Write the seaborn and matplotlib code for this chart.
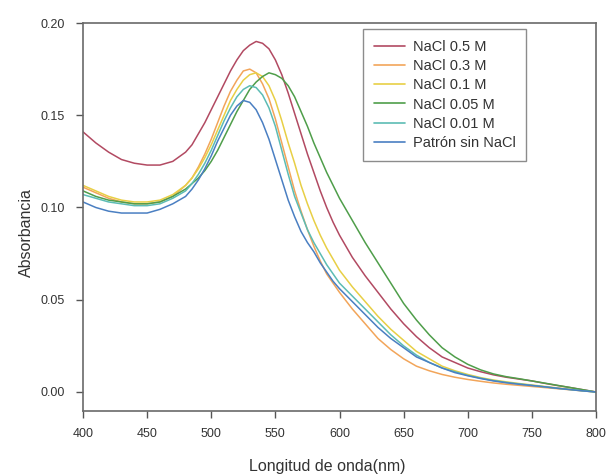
import numpy as np
import pandas as pd
import matplotlib
matplotlib.use("Agg")
import matplotlib.pyplot as plt
import seaborn as sns
from matplotlib.lines import Line2D

wavelength = ([400, 410, 420, 430, 440, 450, 460, 470, 480]
              + [485, 490, 495, 500, 505, 510, 515, 520, 525, 530, 535, 540, 545, 550,
                 555, 560, 565, 570, 575, 580, 585, 590, 595, 600]
              + [610, 620, 630, 640, 650, 660, 670, 680, 690, 700,
                 710, 720, 730, 740, 750, 760, 770, 780, 790, 800])

nacl_05 = [0.141, 0.135, 0.130, 0.126, 0.124, 0.123, 0.123, 0.125, 0.130,
           0.134, 0.140, 0.146, 0.153, 0.160, 0.167, 0.174, 0.180, 0.185, 0.188, 0.190, 0.189,
           0.186, 0.180, 0.172, 0.162, 0.151, 0.140, 0.129, 0.119, 0.109, 0.100, 0.092, 0.085,
           0.073, 0.063, 0.054, 0.045, 0.037, 0.030, 0.024, 0.019, 0.016, 0.013,
           0.011, 0.0093, 0.008, 0.007, 0.006, 0.0047, 0.0035, 0.0024, 0.0012, 0.0]
nacl_03 = [0.111, 0.108, 0.105, 0.103, 0.102, 0.102, 0.103, 0.106, 0.112,
           0.116, 0.122, 0.129, 0.137, 0.146, 0.155, 0.163, 0.169, 0.174, 0.175, 0.173, 0.167,
           0.159, 0.148, 0.135, 0.122, 0.109, 0.098, 0.088, 0.079, 0.071, 0.064, 0.059, 0.054,
           0.045, 0.037, 0.029, 0.023, 0.018, 0.014, 0.0115, 0.0095, 0.008, 0.0068,
           0.0058, 0.0049, 0.0042, 0.0036, 0.003, 0.0024, 0.0018, 0.0012, 0.0006, 0.0]
nacl_01 = [0.112, 0.109, 0.106, 0.104, 0.103, 0.103, 0.104, 0.107, 0.112,
           0.116, 0.121, 0.127, 0.134, 0.142, 0.150, 0.158, 0.164, 0.169, 0.172, 0.173, 0.171,
           0.166, 0.158, 0.147, 0.135, 0.124, 0.112, 0.102, 0.093, 0.085, 0.078, 0.072, 0.066,
           0.057, 0.049, 0.041, 0.034, 0.028, 0.022, 0.018, 0.014, 0.0115, 0.0095,
           0.0078, 0.0065, 0.0055, 0.0046, 0.0038, 0.003, 0.0022, 0.0015, 0.0007, 0.0]
nacl_005 = [0.109, 0.106, 0.104, 0.103, 0.102, 0.102, 0.103, 0.106, 0.110,
            0.113, 0.116, 0.120, 0.125, 0.131, 0.138, 0.145, 0.152, 0.158, 0.164, 0.168, 0.171,
            0.173, 0.172, 0.170, 0.166, 0.160, 0.152, 0.144, 0.135, 0.127, 0.119, 0.112, 0.105,
            0.093, 0.081, 0.070, 0.059, 0.048, 0.039, 0.031, 0.024, 0.019, 0.015,
            0.012, 0.0098, 0.0083, 0.0072, 0.006, 0.0048, 0.0036, 0.0024, 0.0012, 0.0]
nacl_001 = [0.107, 0.105, 0.103, 0.102, 0.101, 0.101, 0.102, 0.105, 0.109,
            0.113, 0.118, 0.124, 0.131, 0.139, 0.147, 0.154, 0.160, 0.164, 0.166, 0.165, 0.161,
            0.154, 0.144, 0.131, 0.118, 0.106, 0.097, 0.088, 0.081, 0.075, 0.069, 0.064, 0.059,
            0.052, 0.045, 0.038, 0.031, 0.025, 0.020, 0.016, 0.013, 0.011, 0.009,
            0.0075, 0.0062, 0.0052, 0.0044, 0.0036, 0.0028, 0.002, 0.0013, 0.0006, 0.0]
patron = [0.103, 0.100, 0.098, 0.097, 0.097, 0.097, 0.099, 0.102, 0.106,
          0.110, 0.115, 0.121, 0.128, 0.136, 0.143, 0.150, 0.155, 0.158, 0.157, 0.153, 0.146,
          0.137, 0.126, 0.115, 0.104, 0.095, 0.087, 0.081, 0.076, 0.070, 0.065, 0.060, 0.056,
          0.049, 0.042, 0.035, 0.029, 0.024, 0.019, 0.016, 0.013, 0.0105, 0.0088,
          0.0073, 0.006, 0.005, 0.0042, 0.0035, 0.0028, 0.002, 0.0013, 0.0006, 0.0]

series_names = ["NaCl 0.5 M", "NaCl 0.3 M", "NaCl 0.1 M", "NaCl 0.05 M", "NaCl 0.01 M", "Patrón sin NaCl"]
series_values = [nacl_05, nacl_03, nacl_01, nacl_005, nacl_001, patron]
colors = ["#b24a62", "#f2a55a", "#e8cf45", "#4f9e4a", "#5cbcb4", "#4a7fc2"]

x_ticks = [400, 450, 500, 550, 600, 650, 700, 750, 800]
y_ticks = [0.00, 0.05, 0.10, 0.15, 0.20]

df = pd.concat([
    pd.DataFrame({"wl": wavelength, "abs": vals, "serie": name})
    for name, vals in zip(series_names, series_values)
], ignore_index=True)

sns.set_style("white")
plt.rcParams["font.family"] = ["Liberation Sans", "DejaVu Sans"]

fig = plt.figure(figsize=(6.07, 4.75), dpi=100)
ax = fig.add_axes([83 / 607, 1 - 411 / 475, 513 / 607, 388 / 475])

sns.lineplot(data=df, x="wl", y="abs", hue="serie", hue_order=series_names,
             palette=colors, linewidth=1.1, ax=ax, legend=False)

ax.set_xlim(400, 800)
ax.set_ylim(-0.0103, 0.2)
ax.set_xticks(x_ticks)
ax.set_yticks(y_ticks)
ax.set_xticklabels([str(t) for t in x_ticks])
ax.set_yticklabels([f"{t:.2f}" for t in y_ticks])
ax.tick_params(axis="both", direction="out", length=5, width=1, color="#555555",
               labelsize=9, labelcolor="#333333", bottom=True, left=True)
ax.tick_params(axis="y", pad=8)
ax.tick_params(axis="x", pad=7)

for s in ax.spines.values():
    s.set_color("#6a6a6a")
    s.set_linewidth(1.2)

ax.set_xlabel("Longitud de onda(nm)", fontsize=11.5, color="#333333")
ax.set_ylabel("Absorbancia", fontsize=11.5, color="#333333")
ax.xaxis.set_label_coords(0.476, -0.142)
ax.yaxis.set_label_coords(-0.111, 0.461)
ax.xaxis.label.set_va("center")
ax.yaxis.label.set_va("center")

handles = [Line2D([0], [0], color=c, lw=1.2) for c in colors]
leg = ax.legend(handles, series_names, loc="upper left", bbox_to_anchor=(0.546, 0.985),
                borderaxespad=0, fontsize=10.5, frameon=True, fancybox=False,
                handlelength=2.1, handletextpad=0.55, labelspacing=0.36,
                borderpad=0.75, labelcolor="#333333")
leg.get_frame().set_edgecolor("#707070")
leg.get_frame().set_linewidth(1.0)

fig.savefig("out.png", dpi=100)
